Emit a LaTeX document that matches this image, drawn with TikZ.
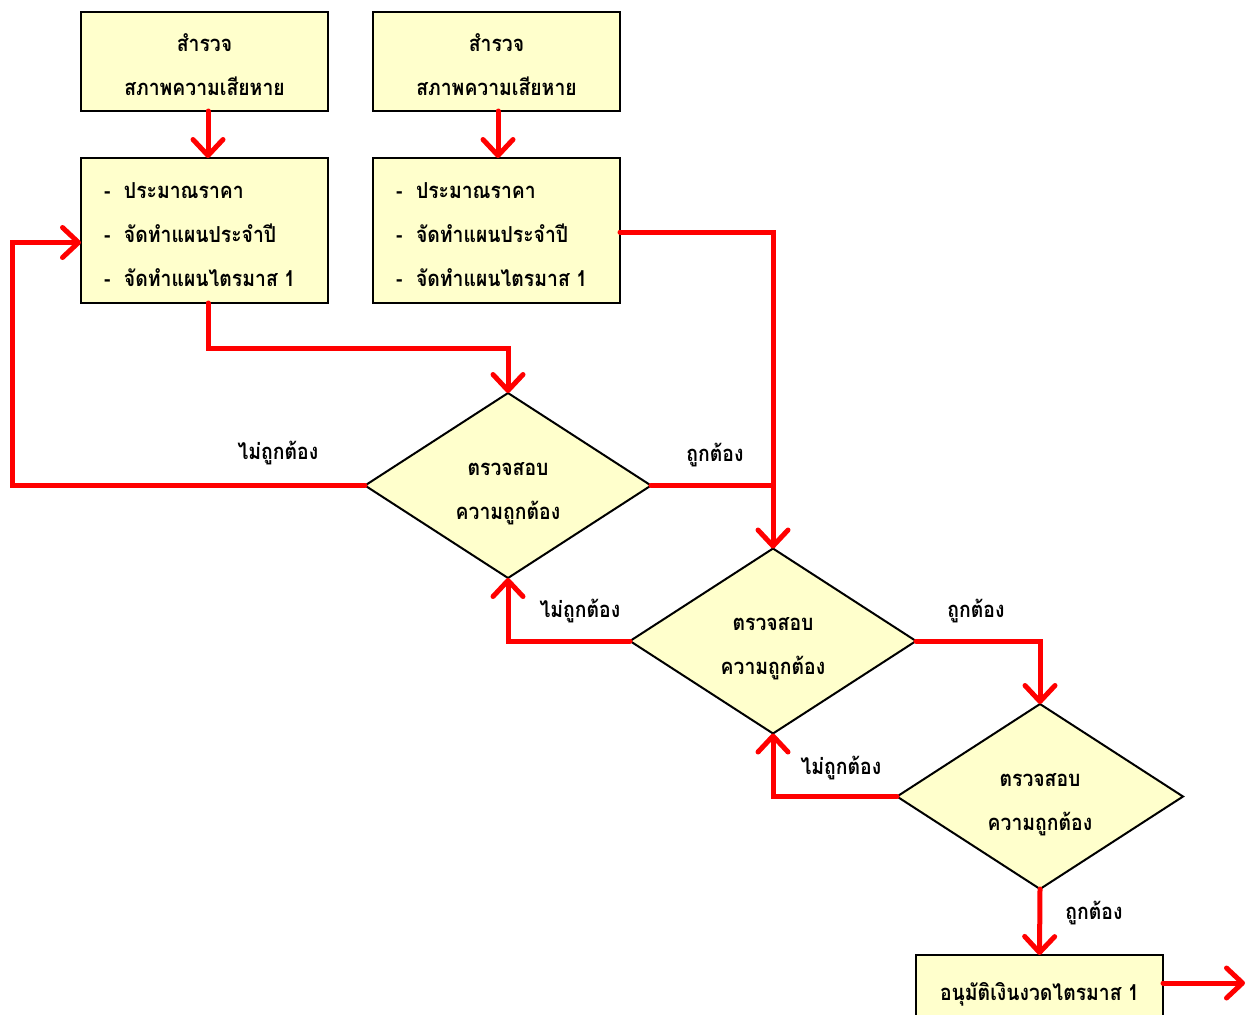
\documentclass[tikz,border=0pt]{standalone}
\usepackage{fontspec}
\newfontfamily\thai[Script=Thai,FakeStretch=0.88]{Loma}
\usetikzlibrary{shapes.geometric,arrows.meta}
\definecolor{paleyellow}{HTML}{FFFFCC}
\definecolor{flowred}{HTML}{FF0000}
\tikzset{
  thaitext/.style={font=\thai\bfseries\fontsize{11}{22}\selectfont},
  box/.style={draw=black, line width=1pt, fill=paleyellow, rectangle,
    minimum width=123.5pt, minimum height=#1, inner sep=0pt, outer sep=0pt,
    thaitext},
  listbox/.style={box=72.5pt, inner xsep=11.5pt},
  check/.style={draw=black, line width=1pt, fill=paleyellow, diamond,
    aspect=1.55, minimum width=143pt, minimum height=92.5pt, inner sep=0pt,
    outer sep=0pt, thaitext},
  flow/.style={draw=flowred, line width=2.5pt, line cap=round, line join=miter},
  go/.style={flow, -{Straight Barb[length=8pt,width=15pt,round]}},
  lbl/.style={thaitext, inner sep=0pt}
}
% centred lines, each row one 22pt line, set a little low in the shape
\newcommand{\rows}[1]{\raisebox{-1.5pt}[\height][\depth]{\begin{tabular}{@{}c@{}}#1\end{tabular}}}
% left-aligned bullet list of fixed width
\newcommand{\bullets}[1]{\raisebox{-1.5pt}[\height][\depth]{\begin{tabular}{@{}p{100.5pt}@{}}#1\end{tabular}}}
\newcommand{\itm}[1]{\makebox[10pt][l]{-}#1}
\begin{document}
\begin{tikzpicture}[x=0.5pt,y=-0.5pt]
\useasboundingbox (0,0) rectangle (1252,1014);
\clip (0,0) rectangle (1252,1014);

% survey boxes
\node[box=49.5pt] (A1) at (204.5,61.5) {\rows{สำรวจ\\สภาพความเสียหาย}};
\node[box=49.5pt] (A2) at (496.5,61.5) {\rows{สำรวจ\\สภาพความเสียหาย}};

% planning boxes
\node[listbox] (B1) at (204.5,230.5)
  {\bullets{\itm{ประมาณราคา}\\\itm{จัดทำแผนประจำปี}\\\itm{จัดทำแผนไตรมาส 1}}};
\node[listbox] (B2) at (496.5,230.5)
  {\bullets{\itm{ประมาณราคา}\\\itm{จัดทำแผนประจำปี}\\\itm{จัดทำแผนไตรมาส 1}}};

% checks
\node[check] (D1) at (508,485.5) {\rows{ตรวจสอบ\\ความถูกต้อง}};
\node[check] (D2) at (773,641) {\rows{ตรวจสอบ\\ความถูกต้อง}};
\node[check] (D3) at (1040,796.5) {\rows{ตรวจสอบ\\ความถูกต้อง}};

% approval
\node[box=34pt] (F) at (1039.5,989) {\rows{อนุมัติเงินงวดไตรมาส 1}};

\coordinate (lft) at (12,485.5);
\coordinate (out) at (1245,983);

% connectors
\draw[go] ([xshift=1.75pt]A1.south) -- ([xshift=1.75pt]B1.north);
\draw[go] ([xshift=0.75pt]A2.south) -- ([xshift=0.75pt]B2.north);
\draw[go] ([xshift=1.75pt]B1.south) -- ++(0,45) -| (D1.north);
\draw[go] ([yshift=-0.75pt]B2.east) -| (D2.north);
\draw[flow] (D1.east) -- (D1.east -| D2.north);
\draw[go] (D1.west) -- (lft) |- ([yshift=-6pt]B1.west);
\draw[go] (D2.west) -| (D1.south);
\draw[go] (D2.east) -| (D3.north);
\draw[go] (D3.west) -| (D2.south);
\draw[go] (D3.south) -- (F.north);
\draw[go] ([yshift=3pt]F.east) -- (out);

% labels
\node[lbl] (n1) at (278,453) {ไม่ถูกต้อง};
\node[lbl] (y1) at (715,455) {ถูกต้อง};
\node[lbl] (n2) at (580,611) {ไม่ถูกต้อง};
\node[lbl] (y2) at (976,611) {ถูกต้อง};
\node[lbl] (n3) at (841,768) {ไม่ถูกต้อง};
\node[lbl] (y3) at (1094,913) {ถูกต้อง};
\end{tikzpicture}
\end{document}
